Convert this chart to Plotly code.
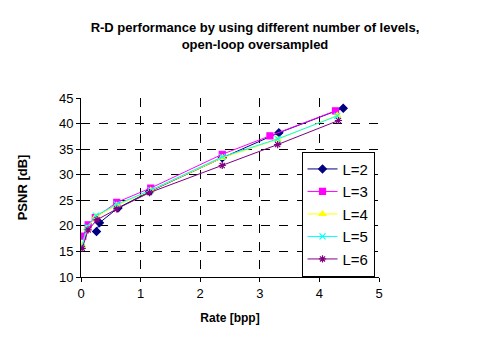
import plotly.graph_objects as go

# R-D data
names = ['L=2', 'L=3', 'L=4', 'L=5', 'L=6']

rate_l2 = [0.26, 0.31, 0.62, 1.15, 2.37, 3.32, 4.40]
psnr_l2 = [18.9, 20.6, 23.5, 26.7, 33.3, 38.2, 43.0]

rate_l3 = [0.03, 0.12, 0.24, 0.60, 1.17, 2.37, 3.17, 4.27]
psnr_l3 = [18.0, 20.2, 21.6, 24.6, 27.4, 34.0, 37.6, 42.5]

rate_l4 = [0.02, 0.10, 0.25, 0.60, 1.17, 2.37, 3.30, 4.30]
psnr_l4 = [16.2, 19.5, 21.8, 24.0, 26.9, 33.3, 36.9, 41.6]

rate_l5 = [0.01, 0.10, 0.25, 0.60, 1.17, 2.37, 3.30, 4.30]
psnr_l5 = [15.8, 19.8, 22.0, 24.2, 27.0, 33.5, 37.0, 41.5]

rate_l6 = [0.02, 0.12, 0.27, 0.60, 1.15, 2.37, 3.30, 4.32]
psnr_l6 = [15.6, 19.2, 21.2, 23.3, 26.5, 31.8, 35.9, 40.6]

rates = [rate_l2, rate_l3, rate_l4, rate_l5, rate_l6]
psnrs = [psnr_l2, psnr_l3, psnr_l4, psnr_l5, psnr_l6]
colors = ['#000080', '#FF00FF', '#FFFF00', '#00FFFF', '#800080']
symbols = ['diamond', 'square', 'triangle-up', 'x-thin-open', 'asterisk-open']

fig = go.Figure()
for nm, x, y, c, s in zip(names, rates, psnrs, colors, symbols):
    fig.add_trace(go.Scatter(
        x=x, y=y, name=nm, mode='lines+markers',
        line=dict(color=c, width=1),
        marker=dict(symbol=s, size=6, color=c, line=dict(color=c, width=1.2)),
    ))

fig.update_layout(
    width=494, height=346,
    paper_bgcolor='white', plot_bgcolor='white',
    margin=dict(l=73, r=123, t=90, b=77),
    font=dict(family='Liberation Sans, Arial', size=13, color='black'),
    title=dict(
        text='<b>R-D performance by using different number of levels,<br>open-loop oversampled</b>',
        x=0.5, xanchor='center', y=0.93, yanchor='top',
        font=dict(size=13),
    ),
    xaxis=dict(
        range=[0, 5], dtick=1, showline=True, linecolor='black', linewidth=1,
        ticks='outside', ticklen=4, tickcolor='black',
        showgrid=True, gridcolor='black', griddash='dash', gridwidth=1,
        zeroline=False, tickfont=dict(size=13),
        title=dict(text='<b>Rate [bpp]</b>', font=dict(size=12), standoff=14),
    ),
    yaxis=dict(
        range=[10, 45], dtick=5, showline=True, linecolor='black', linewidth=1,
        ticks='outside', ticklen=4, tickcolor='black',
        showgrid=True, gridcolor='black', griddash='dash', gridwidth=1,
        zeroline=False, tickfont=dict(size=13),
        title=dict(text='<b>PSNR [dB]</b>', font=dict(size=13), standoff=28),
    ),
    legend=dict(
        x=0.74, y=0.70, xanchor='left', yanchor='top',
        bgcolor='white', bordercolor='black', borderwidth=1,
        font=dict(size=15), tracegroupgap=0, itemwidth=30,
    ),
)

fig.write_html("out.html")
